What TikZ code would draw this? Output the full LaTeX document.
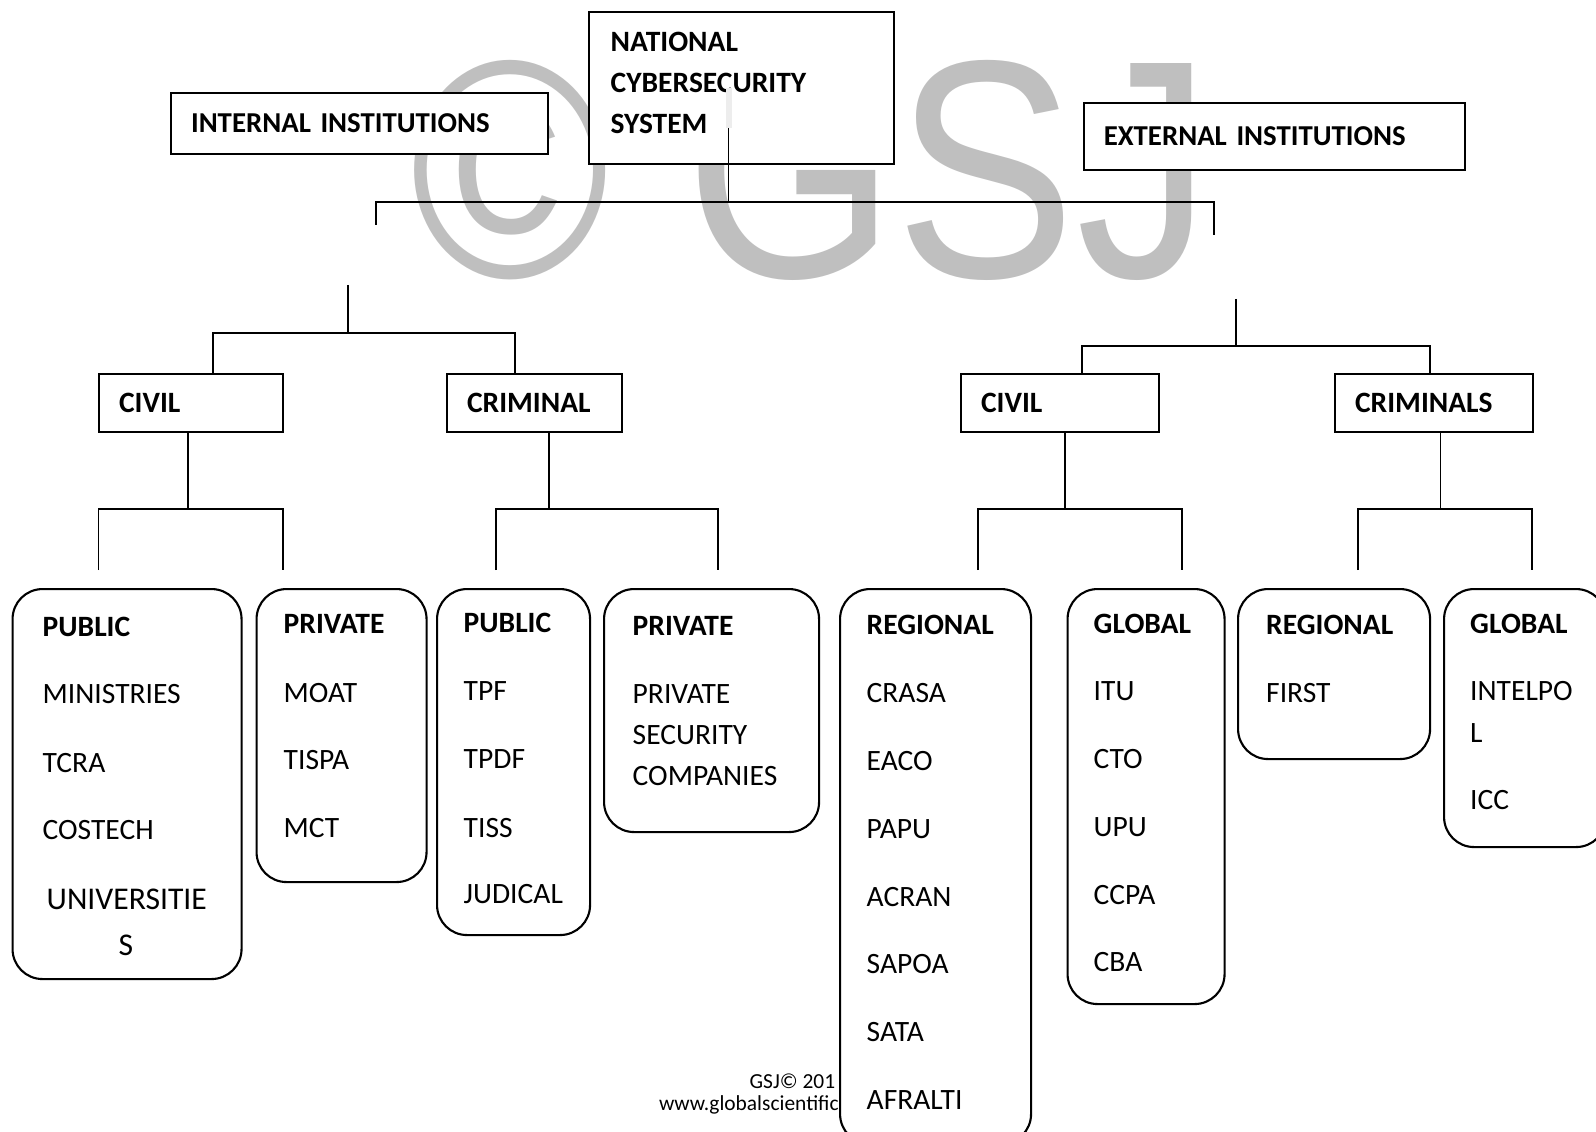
\documentclass[tikz,border=0pt]{standalone}
\usepackage{fontspec}
\setmainfont{Carlito}
\newfontfamily\wmfont{Liberation Sans}
\usetikzlibrary{positioning}

\begin{document}
\begin{tikzpicture}[x=0.1mm, y=-0.1mm,
  sqbox/.style={draw, line width=0.6pt, fill=white, anchor=north west, inner xsep=2mm, inner ysep=0pt,
    align=left, font=\fontsize{8.4}{11.7}\selectfont\bfseries},
  rbox/.style={draw, line width=0.6pt, fill=white, rounded corners=3mm, anchor=north west, inner sep=0pt},
  item/.style={anchor=base west, inner sep=0pt, font=\fontsize{8.4}{11.7}\selectfont},
  head/.style={item, font=\fontsize{8.4}{11.7}\selectfont\bfseries},
  link/.style={line width=0.5pt}]
\useasboundingbox (0,0) rectangle (1596,1131);

% watermark and footer
\node[anchor=base west, inner sep=0pt, text=black!25, font=\fontsize{88.5}{88.5}\wmfont] (wm) at (410,278) {\scalebox{0.87}[1]{© GSJ}};
\node[item, font=\fontsize{6.1}{7.2}\selectfont] (gsjA) at (749,1088) {GSJ© 201};
\node[item, font=\fontsize{6.1}{7.2}\selectfont] (gsjB) at (658.3,1110) {www.globalscientific};

% top level
\node[sqbox, minimum width=37.7mm, minimum height=6.1mm, text width=33.7mm,
  font=\fontsize{8.2}{11.7}\selectfont\bfseries] (intern) at (170,91.7) {INTERNAL INSTITUTIONS};
\node[sqbox, minimum width=30.5mm, minimum height=15.2mm] (nat) at (588,10.7) {};
\node[anchor=north west, inner sep=0pt, align=left, font=\fontsize{8.4}{11.7}\selectfont\bfseries] (natT)
  at ([shift={(22,21)}]nat.north west) {NATIONAL\\CYBERSECURITY\\SYSTEM};
\node[sqbox, minimum width=38.1mm, minimum height=6.7mm, text width=34.1mm,
  font=\fontsize{8.2}{11.7}\selectfont\bfseries] (extern) at (1082.7,101.7) {EXTERNAL INSTITUTIONS};

\coordinate (natS) at (728.6,128);
\coordinate (topJ) at (728.6,201.7);
\coordinate (topL) at (376,225);
\coordinate (topR) at (1214,235);
\draw[line width=0.6mm, black!7] (728.6,88) -- (natS);
\draw[link] (natS) -- (topJ);
\draw[link] (topL) |- (topJ) -| (topR);

% second level
\node[sqbox, minimum width=18.4mm, minimum height=5.8mm, text width=14.4mm] (civA) at (98,373.3) {CIVIL};
\node[sqbox, minimum width=17.5mm, minimum height=5.8mm, text width=13.5mm] (crimA) at (446,373.3) {CRIMINAL};
\node[sqbox, minimum width=19.8mm, minimum height=5.8mm, text width=15.8mm] (civB) at (960,373.3) {CIVIL};
\node[sqbox, minimum width=19.8mm, minimum height=5.8mm, text width=15.8mm] (crimB) at (1334,373.3) {CRIMINALS};

\coordinate (inS) at (348,285);
\coordinate (inJ) at (348,333.3);
\coordinate (inL) at (213,333.3);
\coordinate (inR) at (515,333.3);
\draw[link] (inS) -- (inJ);
\draw[link] (civA.north -| inL) -- (inL) -- (inR) -- (crimA.north -| inR);

\coordinate (exS) at (1236,299);
\coordinate (exJ) at (1236,346);
\coordinate (exL) at (1081.7,346);
\coordinate (exR) at (1430,346);
\draw[link] (exS) -- (exJ);
\draw[link] (civB.north -| exL) -- (exL) -- (exR) -- (crimB.north -| exR);

% third level
\coordinate (aJ) at (188,509);
\coordinate (aL) at (98.4,570);
\coordinate (aR) at (282.7,570);
\draw[link] (civA.south -| aJ) -- (aJ);
\draw[link] (aL) |- (aJ) -| (aR);

\coordinate (bJ) at (549,509);
\coordinate (bL) at (496,570);
\coordinate (bR) at (718,570);
\draw[link] (crimA.south -| bJ) -- (bJ);
\draw[link] (bL) |- (bJ) -| (bR);

\coordinate (cJ) at (1065,509);
\coordinate (cL) at (978,570);
\coordinate (cR) at (1182,570);
\draw[link] (civB.south -| cJ) -- (cJ);
\draw[link] (cL) |- (cJ) -| (cR);

\coordinate (dJ) at (1440.5,509);
\coordinate (dL) at (1358,570);
\coordinate (dR) at (1532,570);
\draw[link] (crimB.south -| dJ) -- (dJ);
\draw[link] (dL) |- (dJ) -| (dR);

% lists
\node[rbox, minimum width=22.9mm, minimum height=39mm] (pubA) at (11.5,588) {};
\node[head] (pubAh) at (42,636.5) {PUBLIC};
\node[item] (pubA1) at (42,703) {MINISTRIES};
\node[item] (pubA2) at (42,772) {TCRA};
\node[item] (pubA3) at (42,839) {COSTECH};
\node[item, font=\fontsize{9}{12}\selectfont] (pubA4) at (46,909) {UNIVERSITIE};
\node[item, font=\fontsize{9}{12}\selectfont] (pubA5) at (118,955) {S};

\node[rbox, minimum width=17mm, minimum height=29.3mm] (privA) at (255.5,588) {};
\node[head] (privAh) at (283,633) {PRIVATE};
\node[item] (privA1) at (283,702) {MOAT};
\node[item] (privA2) at (283,769) {TISPA};
\node[item] (privA3) at (283,837) {MCT};

\node[rbox, minimum width=15.3mm, minimum height=34.6mm] (pubB) at (436,588) {};
\node[head] (pubBh) at (463,632) {PUBLIC};
\node[item] (pubB1) at (463,700) {TPF};
\node[item] (pubB2) at (463,768) {TPDF};
\node[item] (pubB3) at (463,837) {TISS};
\node[item] (pubB4) at (463,903) {JUDICAL};

\node[rbox, minimum width=21.5mm, minimum height=24.3mm] (privB) at (603,588) {};
\node[head] (privBh) at (632,635) {PRIVATE};
\node[item] (privB1) at (632,703) {PRIVATE};
\node[item] (privB2) at (632,744) {SECURITY};
\node[item] (privB3) at (632,785) {COMPANIES};

\node[rbox, minimum width=19.1mm, minimum height=55.5mm] (regA) at (839,588) {};
\node[head] (regAh) at (866,634.6) {REGIONAL};
\node[item] (regA1) at (866,702) {CRASA};
\node[item] (regA2) at (866,770.5) {EACO};
\node[item] (regA3) at (866,838.6) {PAPU};
\node[item] (regA4) at (866,906) {ACRAN};
\node[item] (regA5) at (866,973) {SAPOA};
\node[item] (regA6) at (866,1041) {SATA};
\node[item] (regA7) at (866,1109) {AFRALTI};

\node[rbox, minimum width=15.7mm, minimum height=41.5mm] (globA) at (1066.5,588) {};
\node[head] (globAh) at (1093,633) {GLOBAL};
\node[item] (globA1) at (1093,700) {ITU};
\node[item] (globA2) at (1093,768) {CTO};
\node[item] (globA3) at (1093,836) {UPU};
\node[item] (globA4) at (1093,904) {CCPA};
\node[item] (globA5) at (1093,971) {CBA};

\node[rbox, minimum width=19.2mm, minimum height=17mm] (regB) at (1237,588) {};
\node[head] (regBh) at (1265.5,634.6) {REGIONAL};
\node[item] (regB1) at (1265.5,702) {FIRST};

\node[rbox, minimum width=16.2mm, minimum height=25.8mm] (globB) at (1443,588) {};
\node[head] (globBh) at (1469.5,633) {GLOBAL};
\node[item] (globB1) at (1469.5,700) {INTELPO};
\node[item] (globB2) at (1469.5,742) {L};
\node[item] (globB3) at (1469.5,809) {ICC};
\end{tikzpicture}
\end{document}
